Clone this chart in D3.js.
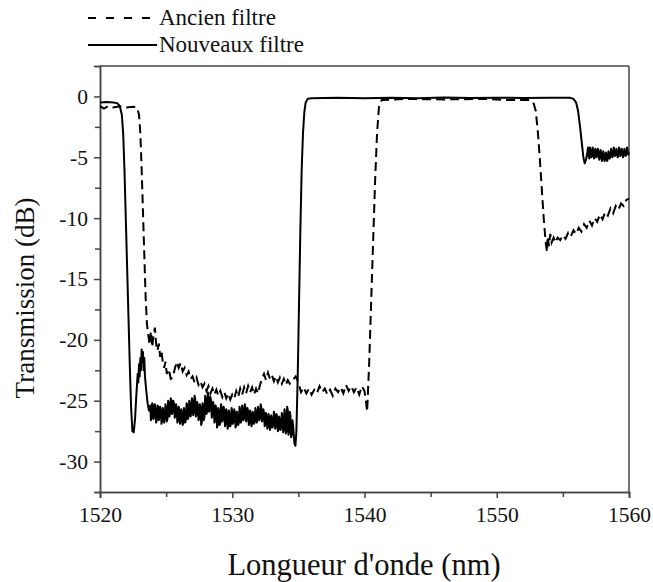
<!DOCTYPE html>
<html>
<head>
<meta charset="utf-8">
<script src="https://cdn.jsdelivr.net/npm/d3@7"></script>
<style>
  body { margin: 0; background: #fff; }
  svg text { font-family: "Liberation Serif", "DejaVu Serif", "Noto Serif", "Times New Roman", serif; }
</style>
</head>
<body>
<div id="chart"></div>
<script>
  // series labels, in legend order
  var seriesNames = ['Ancien filtre', 'Nouveaux filtre'];

  // tick values
  var xMajor = [1520, 1530, 1540, 1550, 1560];
  var xMinor = [1525, 1535, 1545, 1555];
  var yMajor = [0, -5, -10, -15, -20, -25, -30];
  var yMinor = [-2.5, -7.5, -12.5, -17.5, -22.5, -27.5];

  // old filter: [wavelength nm, transmission dB]
  var ancien = [
    [1520, -0.8], [1520.3, -1.0], [1520.6, -0.8], [1521, -0.9], [1521.5, -0.8],
    [1522, -0.9], [1522.5, -0.85], [1522.8, -0.9], [1522.95, -1.5], [1523.05, -3],
    [1523.15, -6], [1523.25, -9.5], [1523.35, -13], [1523.45, -16.5], [1523.55, -18.7],
    [1523.65, -19.6], [1523.75, -20.4], [1523.85, -19.3], [1523.95, -20.6], [1524.05, -19.6],
    [1524.15, -19.0], [1524.25, -20.4], [1524.35, -20.9], [1524.45, -20.3], [1524.55, -21.4],
    [1524.65, -20.9], [1524.75, -21.9], [1524.85, -22.3], [1524.95, -21.8], [1525.05, -22.8],
    [1525.2, -22.4], [1525.35, -23.2], [1525.5, -23.1], [1525.65, -22.4], [1525.8, -21.8],
    [1525.95, -22.3], [1526.1, -21.9], [1526.25, -22.6], [1526.4, -22.3], [1526.55, -22.9],
    [1526.7, -22.6], [1526.85, -23.2], [1527.0, -23.0], [1527.15, -23.5], [1527.3, -23.1],
    [1527.45, -23.7], [1527.6, -23.4], [1527.75, -23.9], [1527.9, -23.6], [1528.05, -24.2],
    [1528.2, -23.8], [1528.35, -24.4], [1528.5, -24.0], [1528.65, -24.5], [1528.8, -24.1],
    [1528.95, -24.6], [1529.1, -24.2], [1529.25, -24.7], [1529.4, -24.3], [1529.55, -24.8],
    [1529.7, -24.4], [1529.85, -24.9], [1530.0, -24.5], [1530.15, -24.8], [1530.3, -24.2],
    [1530.45, -24.7], [1530.6, -24.0], [1530.75, -24.5], [1530.9, -23.9], [1531.05, -24.4],
    [1531.2, -23.8], [1531.35, -24.3], [1531.5, -23.9], [1531.65, -24.5], [1531.8, -24.0],
    [1531.95, -24.4], [1532.1, -23.7], [1532.25, -23.2], [1532.4, -22.8], [1532.55, -23.3],
    [1532.7, -22.7], [1532.85, -23.2], [1533.0, -22.9], [1533.15, -23.4], [1533.3, -23.0],
    [1533.45, -23.5], [1533.6, -23.1], [1533.75, -23.6], [1533.9, -23.2], [1534.05, -23.7],
    [1534.2, -23.3], [1534.35, -23.6], [1534.5, -23.4], [1534.8, -23.0], [1535.0, -23.5],
    [1535.2, -24.3], [1535.4, -23.9], [1535.6, -24.4], [1535.8, -24.0], [1536.0, -24.5],
    [1536.2, -24.1], [1536.4, -24.4], [1536.6, -23.8], [1536.8, -24.3], [1537.0, -24.0],
    [1537.2, -24.5], [1537.4, -24.1], [1537.6, -24.6], [1537.8, -24.0], [1538.0, -24.3],
    [1538.2, -23.9], [1538.4, -24.4], [1538.6, -23.7], [1538.8, -24.2], [1539.0, -23.8],
    [1539.2, -24.3], [1539.4, -23.9], [1539.6, -24.5], [1539.8, -23.8], [1540.0, -24.2],
    [1540.1, -25.0], [1540.2, -25.9], [1540.35, -22], [1540.5, -17], [1540.65, -12],
    [1540.8, -7], [1540.95, -3], [1541.1, -0.8], [1541.3, -0.3], [1543, -0.2],
    [1546, -0.25], [1549, -0.2], [1551, -0.3], [1552.5, -0.3], [1552.8, -0.6],
    [1552.95, -1.2], [1553.1, -2.8], [1553.25, -5], [1553.4, -7.5], [1553.55, -10],
    [1553.7, -12], [1553.8, -12.8], [1553.85, -11.5], [1553.95, -12.3], [1554.05, -11.3],
    [1554.15, -12.0], [1554.3, -11.6], [1554.45, -12.0], [1554.6, -11.6], [1554.8, -11.8],
    [1555.0, -11.4], [1555.2, -11.7], [1555.4, -11.2], [1555.6, -11.5], [1555.8, -11.0],
    [1556.0, -11.3], [1556.2, -10.8], [1556.4, -11.1], [1556.6, -10.5], [1556.8, -10.8],
    [1557.0, -10.2], [1557.2, -10.6], [1557.4, -10.0], [1557.6, -10.3], [1557.8, -9.7],
    [1558.0, -10.1], [1558.2, -9.5], [1558.4, -9.8], [1558.6, -9.2], [1558.8, -9.6],
    [1559.0, -9.0], [1559.2, -9.3], [1559.4, -8.8], [1559.6, -9.0], [1559.8, -8.5],
    [1560, -8.4]
  ];

  // new filter
  var nouveaux = [
    [1520.0, -0.5], [1520.5, -0.45], [1521.0, -0.5], [1521.3, -0.55], [1521.5, -0.8],
    [1521.65, -1.5], [1521.75, -3], [1521.85, -6], [1521.95, -10], [1522.05, -14],
    [1522.15, -18], [1522.25, -22], [1522.35, -25.5], [1522.45, -27.5], [1522.55, -27.6],
    [1522.65, -26.5], [1522.75, -24.5], [1522.85, -22.8], [1522.9, -23.5], [1522.95, -22],
    [1523.0, -23], [1523.05, -21.5], [1523.1, -22.5], [1523.15, -20.8], [1523.2, -21.8],
    [1523.25, -21], [1523.3, -22.5], [1523.35, -21.5], [1523.4, -23], [1523.5, -24.2],
    [1523.6, -25.2], [1523.7, -25.8],
    [1523.8, -25.4], [1523.85, -26.6], [1523.9, -26.4], [1523.95, -25.2], [1524.0, -25.4],
    [1524.05, -26.5], [1524.1, -26.2], [1524.15, -25.3], [1524.2, -25.7], [1524.25, -26.8],
    [1524.3, -26.5], [1524.35, -25.4], [1524.4, -25.5], [1524.45, -26.6], [1524.5, -26.3],
    [1524.55, -25.5], [1524.6, -25.8], [1524.65, -26.9], [1524.7, -26.6], [1524.75, -25.6],
    [1524.8, -25.9], [1524.85, -26.8], [1524.9, -26.4], [1524.95, -25.3], [1525.0, -25.6],
    [1525.05, -26.7], [1525.1, -26.5], [1525.15, -25.0], [1525.2, -25.2], [1525.25, -26.3],
    [1525.3, -26.0], [1525.35, -24.8], [1525.4, -25.0], [1525.45, -26.1], [1525.5, -25.8],
    [1525.55, -25.0], [1525.6, -25.3], [1525.65, -26.4], [1525.7, -26.2], [1525.75, -25.3],
    [1525.8, -25.7], [1525.85, -26.8], [1525.9, -26.6], [1525.95, -25.5], [1526.0, -25.8],
    [1526.05, -26.9], [1526.1, -26.7], [1526.15, -25.7], [1526.2, -26.0], [1526.25, -27.0],
    [1526.3, -26.8], [1526.35, -25.6], [1526.4, -25.9], [1526.45, -26.8], [1526.5, -26.5],
    [1526.55, -25.2], [1526.6, -25.4], [1526.65, -26.5], [1526.7, -26.2], [1526.75, -25.0],
    [1526.8, -25.3], [1526.85, -26.3], [1526.9, -26.0], [1526.95, -24.8], [1527.0, -25.0],
    [1527.05, -26.2], [1527.1, -25.9], [1527.15, -24.6], [1527.2, -24.9], [1527.25, -26.3],
    [1527.3, -26.1], [1527.35, -25.1], [1527.4, -25.4], [1527.45, -26.6], [1527.5, -26.4],
    [1527.55, -25.3], [1527.6, -25.6], [1527.65, -27.0], [1527.7, -26.8], [1527.75, -25.2],
    [1527.8, -25.5], [1527.85, -26.6], [1527.9, -26.3], [1527.95, -24.6], [1528.0, -24.8],
    [1528.05, -26.1], [1528.1, -25.9], [1528.15, -24.3], [1528.2, -24.6], [1528.25, -25.9],
    [1528.3, -25.7], [1528.35, -24.7], [1528.4, -25.0], [1528.45, -26.4], [1528.5, -26.2],
    [1528.55, -25.1], [1528.6, -25.4], [1528.65, -26.8], [1528.7, -26.6], [1528.75, -25.4],
    [1528.8, -25.7], [1528.85, -27.2], [1528.9, -27.0], [1528.95, -25.6], [1529.0, -25.9],
    [1529.05, -27.0], [1529.1, -26.8], [1529.15, -25.3], [1529.2, -25.6], [1529.25, -26.7],
    [1529.3, -26.5], [1529.35, -25.5], [1529.4, -25.8], [1529.45, -27.1], [1529.5, -26.9],
    [1529.55, -25.7], [1529.6, -26.0], [1529.65, -27.3], [1529.7, -27.1], [1529.75, -25.8],
    [1529.8, -26.1], [1529.85, -27.1], [1529.9, -26.9], [1529.95, -25.6], [1530.0, -25.9],
    [1530.05, -26.9], [1530.1, -26.7], [1530.15, -25.7], [1530.2, -26.0], [1530.25, -27.2],
    [1530.3, -27.0], [1530.35, -25.9], [1530.4, -26.2], [1530.45, -27.0], [1530.5, -26.8],
    [1530.55, -25.5], [1530.6, -25.8], [1530.65, -26.8], [1530.7, -26.6], [1530.75, -25.4],
    [1530.8, -25.7], [1530.85, -26.6], [1530.9, -26.4], [1530.95, -25.3], [1531.0, -25.6],
    [1531.05, -26.7], [1531.1, -26.5], [1531.15, -25.6], [1531.2, -25.9], [1531.25, -27.0],
    [1531.3, -26.8], [1531.35, -25.8], [1531.4, -26.1], [1531.45, -27.1], [1531.5, -26.9],
    [1531.55, -25.9], [1531.6, -26.2], [1531.65, -26.9], [1531.7, -26.7], [1531.75, -25.6],
    [1531.8, -25.9], [1531.85, -26.8], [1531.9, -26.6], [1531.95, -25.5], [1532.0, -25.8],
    [1532.05, -26.6], [1532.1, -26.4], [1532.15, -25.3], [1532.2, -25.6], [1532.25, -26.7],
    [1532.3, -26.5], [1532.35, -25.7], [1532.4, -26.0], [1532.45, -27.1], [1532.5, -26.9],
    [1532.55, -26.0], [1532.6, -26.3], [1532.65, -27.3], [1532.7, -27.1], [1532.75, -26.1],
    [1532.8, -26.4], [1532.85, -27.4], [1532.9, -27.2], [1532.95, -26.2], [1533.0, -26.5],
    [1533.05, -27.2], [1533.1, -27.0], [1533.15, -25.9], [1533.2, -26.2], [1533.25, -27.3],
    [1533.3, -27.1], [1533.35, -26.1], [1533.4, -26.4], [1533.45, -27.5], [1533.5, -27.3],
    [1533.55, -26.3], [1533.6, -26.6], [1533.65, -27.4], [1533.7, -27.2], [1533.75, -26.0],
    [1533.8, -26.3], [1533.85, -27.6], [1533.9, -27.4], [1533.95, -25.7], [1534.0, -26.0],
    [1534.05, -27.7], [1534.1, -27.5], [1534.15, -25.5], [1534.2, -25.8], [1534.25, -27.8],
    [1534.3, -27.6], [1534.35, -25.9], [1534.4, -26.2], [1534.45, -28.0], [1534.5, -27.8],
    [1534.55, -26.6], [1534.6, -27.0], [1534.7, -28.5],
    [1534.78, -28.7], [1534.85, -27.5], [1534.95, -23], [1535.05, -17], [1535.15, -11],
    [1535.25, -6], [1535.35, -3], [1535.45, -1.3], [1535.55, -0.5], [1535.7, -0.2],
    [1536, -0.15], [1538, -0.1], [1540, -0.15], [1542, -0.1], [1544, -0.15],
    [1546, -0.08], [1548, -0.12], [1550, -0.1], [1552, -0.12], [1554, -0.1],
    [1555.5, -0.1], [1555.8, -0.2], [1556.0, -0.5], [1556.15, -1.2], [1556.3, -2.5],
    [1556.45, -4.0], [1556.55, -5.0], [1556.65, -5.5], [1556.75, -5.2], [1556.85, -4.6],
    [1556.9, -4.2], [1556.95, -4.9], [1557.0, -5.1], [1557.05, -4.2], [1557.1, -4.4],
    [1557.15, -5.0], [1557.2, -4.9], [1557.25, -4.2], [1557.3, -4.5], [1557.35, -5.1],
    [1557.4, -5.0], [1557.45, -4.3], [1557.5, -4.4], [1557.55, -5.0], [1557.6, -4.9],
    [1557.65, -4.3], [1557.7, -4.6], [1557.75, -5.2], [1557.8, -5.0], [1557.85, -4.4],
    [1557.9, -4.7], [1557.95, -5.3], [1558.0, -5.1], [1558.05, -4.5], [1558.1, -4.8],
    [1558.15, -5.3], [1558.2, -5.2], [1558.25, -4.6], [1558.3, -4.8], [1558.35, -5.3],
    [1558.4, -5.1], [1558.45, -4.5], [1558.5, -4.7], [1558.55, -5.1], [1558.6, -4.9],
    [1558.65, -4.3], [1558.7, -4.6], [1558.75, -5.0], [1558.8, -4.8], [1558.85, -4.2],
    [1558.9, -4.5], [1558.95, -4.9], [1559.0, -4.8], [1559.05, -4.3], [1559.1, -4.6],
    [1559.15, -5.0], [1559.2, -4.8], [1559.25, -4.2], [1559.3, -4.4], [1559.35, -4.9],
    [1559.4, -4.7], [1559.45, -4.3], [1559.5, -4.6], [1559.55, -5.0], [1559.6, -4.8],
    [1559.65, -4.3], [1559.7, -4.5], [1559.75, -4.9], [1559.8, -4.7], [1559.85, -4.2],
    [1559.9, -4.5], [1559.95, -4.8], [1560, -4.6]
  ];

  var width = 653, height = 582;
  var margin = {top: 66, right: 24, bottom: 90, left: 100};
  var innerW = width - margin.left - margin.right;
  var innerH = height - margin.top - margin.bottom;
  var serif = '"Liberation Serif", "DejaVu Serif", "Times New Roman", serif';

  var svg = d3.select('#chart')
    .append('svg')
    .attr('width', width)
    .attr('height', height)
    .style('display', 'block');

  var g = svg.append('g')
    .attr('transform', 'translate(' + margin.left + ',' + margin.top + ')');

  var x = d3.scaleLinear().domain([1520, 1560]).range([0, innerW]);
  var y = d3.scaleLinear().domain([-32.5, 2.5]).range([innerH, 0]);

  var axisColor = '#444';

  // minor ticks first, majors on top
  g.append('g')
    .attr('transform', 'translate(0,' + innerH + ')')
    .call(d3.axisBottom(x).tickValues(xMinor).tickSize(5).tickFormat(''));
  g.append('g')
    .call(d3.axisLeft(y).tickValues(yMinor).tickSize(5).tickFormat(''));

  var xAxis = g.append('g')
    .attr('transform', 'translate(0,' + innerH + ')')
    .call(d3.axisBottom(x).tickValues(xMajor).tickSize(6).tickPadding(9)
      .tickFormat(function(d) { return String(d); }));
  var yAxis = g.append('g')
    .call(d3.axisLeft(y).tickValues(yMajor).tickSize(6).tickPadding(6)
      .tickFormat(function(d) { return String(d); }));

  // d3 puts font-family="sans-serif" on axis groups, override it
  g.selectAll('g').attr('font-family', serif);

  g.selectAll('.domain, .tick line')
    .attr('stroke', axisColor)
    .attr('stroke-width', 1.5);
  g.selectAll('.tick text')
    .attr('fill', '#111')
    .attr('font-family', serif)
    .attr('font-size', 21.5);

  // top and right frame lines
  g.append('line')
    .attr('x1', 0).attr('x2', innerW).attr('y1', 0).attr('y2', 0)
    .attr('stroke', axisColor).attr('stroke-width', 1.5);
  g.append('line')
    .attr('x1', innerW).attr('x2', innerW).attr('y1', 0).attr('y2', innerH)
    .attr('stroke', axisColor).attr('stroke-width', 1.5);

  var line = d3.line()
    .x(function(d) { return x(d[0]); })
    .y(function(d) { return y(d[1]); });

  g.append('path')
    .datum(ancien)
    .attr('fill', 'none')
    .attr('stroke', '#000')
    .attr('stroke-width', 2)
    .attr('stroke-dasharray', '9,5')
    .attr('d', line);

  g.append('path')
    .datum(nouveaux)
    .attr('fill', 'none')
    .attr('stroke', '#000')
    .attr('stroke-width', 2)
    .attr('stroke-linejoin', 'round')
    .attr('d', line);

  // legend
  var legend = svg.append('g').attr('font-family', serif);
  var legendRows = [
    {name: seriesNames[0], dash: '8,10', y: 18},
    {name: seriesNames[1], dash: null, y: 45}
  ];
  legendRows.forEach(function(r) {
    legend.append('line')
      .attr('x1', 88).attr('x2', 157)
      .attr('y1', r.y).attr('y2', r.y)
      .attr('stroke', '#000')
      .attr('stroke-width', 2)
      .attr('stroke-dasharray', r.dash);
    legend.append('text')
      .attr('x', 159)
      .attr('y', r.y + 7)
      .attr('font-size', 23)
      .attr('fill', '#111')
      .text(r.name);
  });

  // axis titles
  svg.append('text')
    .attr('x', 364)
    .attr('y', 575)
    .attr('text-anchor', 'middle')
    .attr('font-family', serif)
    .attr('font-size', 30.5)
    .attr('fill', '#111')
    .text("Longueur d'onde (nm)");

  svg.append('text')
    .attr('transform', 'translate(34,298) rotate(-90)')
    .attr('text-anchor', 'middle')
    .attr('font-family', serif)
    .attr('font-size', 27)
    .attr('fill', '#111')
    .text('Transmission (dB)');
</script>
</body>
</html>
